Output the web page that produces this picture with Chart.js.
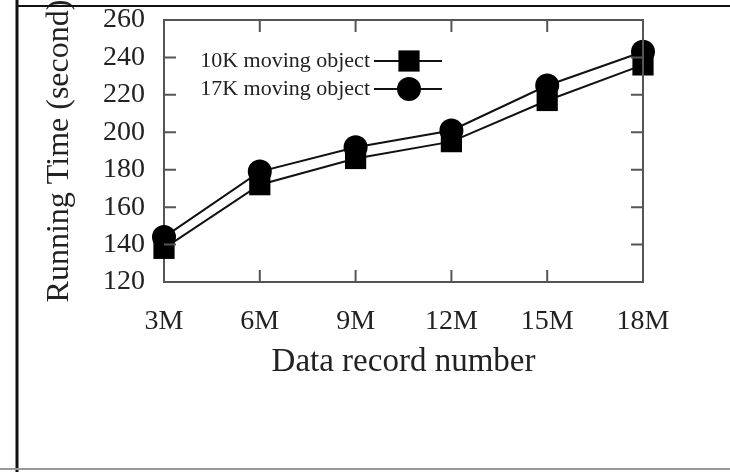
<!DOCTYPE html>
<html lang="en">

<head>
  <meta charset="UTF-8">
  <title>Running time</title>
  <style>
    body { margin: 0; background: #fff; }
    #wrap { width: 730px; height: 472px; }
  </style>
</head>

<body>
  <div id="wrap"><canvas id="grafico"></canvas></div>

  <script src="https://cdn.jsdelivr.net/npm/chart.js"></script>

  <script>
    const labelsX = ["3M", "6M", "9M", "12M", "15M", "18M"]
    const nomes = ["10K moving object", "17K moving object"]
    const valores10K = [138, 172, 186, 195, 217, 236]
    const valores17K = [144, 179, 192, 201, 225, 243]
    const yMin = 120, yMax = 260, yPasso = 20

    const fonte = "'Liberation Serif', 'Times New Roman', serif"
    const corEixo = '#555'
    const tamTick = 12

    // moldura da pagina + ticks internos nos 4 lados
    const moldura = {
      id: 'moldura',
      afterDraw(chart) {
        const c = chart.ctx
        const a = chart.chartArea
        const sx = chart.scales.x, sy = chart.scales.y
        c.save()
        c.strokeStyle = corEixo
        c.lineWidth = 2
        c.beginPath()
        c.moveTo(a.left, a.top); c.lineTo(a.right, a.top); c.lineTo(a.right, a.bottom)
        sy.ticks.forEach(t => {
          const y = sy.getPixelForValue(t.value)
          c.moveTo(a.left, y); c.lineTo(a.left + tamTick, y)
          c.moveTo(a.right, y); c.lineTo(a.right - tamTick, y)
        })
        labelsX.forEach((l, i) => {
          const x = sx.getPixelForValue(i)
          c.moveTo(x, a.bottom); c.lineTo(x, a.bottom - tamTick)
          c.moveTo(x, a.top); c.lineTo(x, a.top + tamTick)
        })
        c.stroke()

        // bordas da figura
        c.strokeStyle = '#111'
        c.lineWidth = 3
        c.beginPath(); c.moveTo(17, 0); c.lineTo(17, 472); c.stroke()
        c.lineWidth = 2
        c.beginPath(); c.moveTo(17, 6); c.lineTo(730, 6); c.stroke()
        c.strokeStyle = '#999'
        c.beginPath(); c.moveTo(0, 469); c.lineTo(730, 469); c.stroke()
        c.restore()
      }
    }

    // legenda estilo gnuplot: texto, linha e marcador
    const legenda = {
      id: 'legenda',
      afterDatasetsDraw(chart) {
        const c = chart.ctx
        c.save()
        c.font = "22px " + fonte
        c.textAlign = 'right'
        c.textBaseline = 'middle'
        chart.data.datasets.forEach((ds, i) => {
          const y = 61 + i * 28
          c.fillStyle = '#222'
          c.fillText(ds.label, 370, y)
          c.strokeStyle = '#111'
          c.lineWidth = 2
          c.beginPath(); c.moveTo(374, y); c.lineTo(442, y); c.stroke()
          c.fillStyle = '#000'
          c.beginPath()
          if (ds.pointStyle === 'rect') {
            const s = ds.pointRadius * Math.SQRT1_2
            c.rect(409 - s, y - s, 2 * s, 2 * s)
          } else {
            c.arc(409, y, ds.pointRadius, 0, Math.PI * 2)
          }
          c.fill()
        })
        c.restore()
      }
    }

    const ctx = document.getElementById('grafico')

    new Chart(ctx, {
      type: 'line',
      data: {
        labels: labelsX,
        datasets: [{
          label: nomes[0],
          data: valores10K,
          borderColor: '#111',
          borderWidth: 2,
          backgroundColor: '#000',
          pointBackgroundColor: '#000',
          pointBorderWidth: 0,
          pointStyle: 'rect',
          pointRadius: 15,
          clip: false
        }, {
          label: nomes[1],
          data: valores17K,
          borderColor: '#111',
          borderWidth: 2,
          backgroundColor: '#000',
          pointBackgroundColor: '#000',
          pointBorderWidth: 0,
          pointStyle: 'circle',
          pointRadius: 12,
          clip: false
        }]
      },
      options: {
        responsive: true,
        maintainAspectRatio: false,
        animation: false,
        layout: { padding: { top: 20, right: 87, bottom: 90, left: 0 } },
        plugins: {
          legend: { display: false },
          tooltip: { enabled: false }
        },
        scales: {
          x: {
            offset: false,
            grid: { display: false, drawTicks: false },
            border: { display: true, color: corEixo, width: 2 },
            ticks: {
              color: '#222',
              padding: 23,
              font: { family: fonte, size: 28 },
              maxRotation: 0,
              autoSkip: false
            },
            title: {
              display: true,
              text: 'Data record number',
              color: '#222',
              font: { family: fonte, size: 33 },
              padding: { top: 0, bottom: 0 }
            },
            afterFit(scale) { scale.height = 100 }
          },
          y: {
            min: yMin,
            max: yMax,
            grid: { display: false, drawTicks: false },
            border: { display: true, color: corEixo, width: 2 },
            ticks: {
              stepSize: yPasso,
              color: '#222',
              padding: 19,
              autoSkip: false,
              font: { family: fonte, size: 28 }
            },
            title: {
              display: true,
              text: 'Running Time (second)',
              color: '#222',
              font: { family: fonte, size: 32 },
              padding: { top: 40, bottom: 0 }
            },
            afterFit(scale) {
              scale.width = 164
              scale.paddingTop = 0
              scale.paddingBottom = 0
            }
          }
        }
      },
      plugins: [moldura, legenda]
    })
  </script>
</body>

</html>
